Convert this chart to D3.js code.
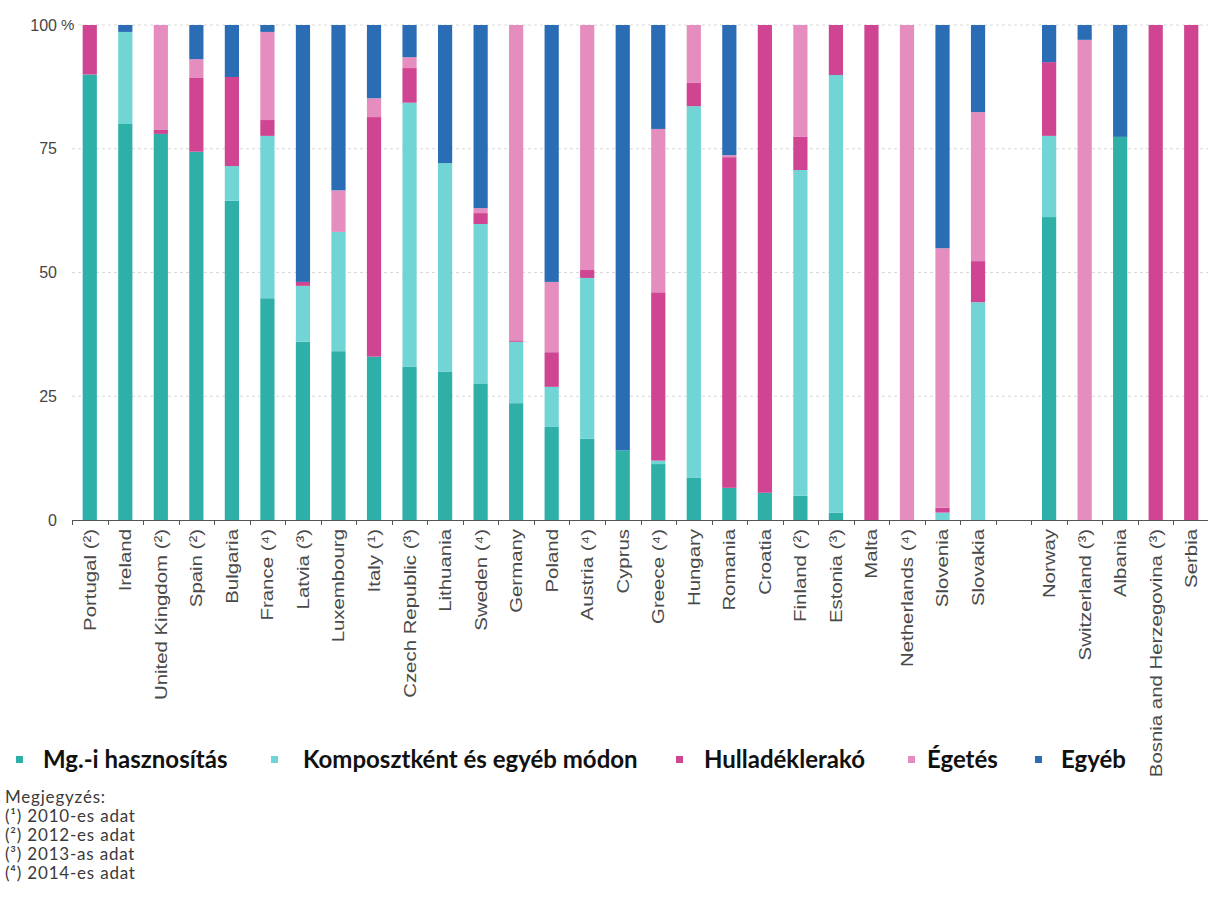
<!DOCTYPE html>
<html>
<head>
<meta charset="utf-8">
<script src="https://cdn.jsdelivr.net/npm/d3@7"></script>
<style>
  body { margin: 0; background: #fff; }
  svg { display: block; }
</style>
</head>
<body>
<svg id="chart" width="1208" height="897"></svg>
<script>
// categories (empty slot separates EU from non-EU countries)
const countries = [
  "Portugal (²)", "Ireland", "United Kingdom (²)", "Spain (²)", "Bulgaria", "France (⁴)",
  "Latvia (³)", "Luxembourg", "Italy (¹)", "Czech Republic (³)", "Lithuania", "Sweden (⁴)",
  "Germany", "Poland", "Austria (⁴)", "Cyprus", "Greece (⁴)", "Hungary", "Romania", "Croatia",
  "Finland (²)", "Estonia (³)", "Malta", "Netherlands (⁴)", "Slovenia", "Slovakia",
  "", "Norway", "Switzerland (³)", "Albania", "Bosnia and Herzegovina (³)", "Serbia"
];

// series values, %
const agri     = [90, 80, 78, 74.4, 64.5, 44.8, 36, 34.1, 33, 31, 30, 27.6, 23.6, 18.8, 16.4, 14.1, 11.3, 8.5, 6.5, 5.5, 4.9, 1.5, 0, 0, 0, 0, 0, 61.2, 0, 77.4, 0, 0];
const compost  = [0, 18.6, 0, 0, 7, 32.8, 11.3, 24.1, 0, 53.3, 42.1, 32.2, 12.4, 8.1, 32.5, 0, 0.7, 75.1, 0, 0, 65.8, 88.4, 0, 0, 1.5, 44, 0, 16.4, 0, 0, 0, 0];
const landfill = [10, 0, 0.8, 14.9, 18, 3.2, 0.8, 0, 48.4, 7, 0, 2.2, 0.3, 7, 1.6, 0, 34, 4.7, 66.8, 94.5, 6.7, 10.1, 100, 0, 1, 8.3, 0, 14.9, 0, 0, 100, 100];
const incin    = [0, 0, 21.2, 3.8, 0, 17.8, 0, 8.4, 3.8, 2.2, 0, 1, 63.7, 14.2, 49.5, 0, 33, 11.7, 0.4, 0, 22.6, 0, 0, 100, 52.4, 30.1, 0, 0, 97, 0, 0, 0];
const other    = [0, 1.4, 0, 6.9, 10.5, 1.4, 51.9, 33.4, 14.8, 6.5, 27.9, 37, 0, 51.9, 0, 85.9, 21, 0, 26.3, 0, 0, 0, 0, 0, 45.1, 17.6, 0, 7.5, 3, 22.6, 0, 0];

const seriesNames = ["Mg.-i hasznosítás", "Komposztként és egyéb módon", "Hulladéklerakó", "Égetés", "Egyéb"];
const seriesKeys = ["agri", "compost", "landfill", "incin", "other"];
const colors = ["#2eb0a9", "#70d5d4", "#cf4592", "#e68dbf", "#2b6db4"];

const yTicks = [0, 25, 50, 75, 100];
const notes = ["Megjegyzés:", "(¹) 2010-es adat", "(²) 2012-es adat", "(³) 2013-as adat", "(⁴) 2014-es adat"];

const rows = countries.map((c, i) => ({
  key: c || "__gap",
  agri: agri[i], compost: compost[i], landfill: landfill[i], incin: incin[i], other: other[i]
}));

const svg = d3.select("#chart");

const x = d3.scaleBand()
  .domain(rows.map(d => d.key))
  .range([72, 1209])
  .paddingInner(0.6)
  .paddingOuter(0.3);

const y = d3.scaleLinear().domain([0, 100]).range([520, 25]);

// grid lines
svg.append("g")
  .selectAll("line")
  .data(yTicks.filter(t => t > 0))
  .enter()
  .append("line")
  .attr("x1", 72).attr("x2", 1208)
  .attr("y1", d => y(d)).attr("y2", d => y(d))
  .attr("stroke", "#d9d9d9")
  .attr("stroke-width", 1)
  .attr("stroke-dasharray", "3,3");

// y labels
svg.append("g")
  .selectAll("text")
  .data(yTicks)
  .enter()
  .append("text")
  .attr("x", 57)
  .attr("y", d => y(d))
  .attr("dy", "0.35em")
  .attr("text-anchor", "end")
  .attr("font-family", "Liberation Sans, Arial, sans-serif")
  .attr("font-size", 16)
  .attr("fill", "#444")
  .text(d => d);

svg.append("text")
  .attr("x", 61)
  .attr("y", y(100))
  .attr("dy", "0.35em")
  .attr("font-family", "Liberation Sans, Arial, sans-serif")
  .attr("font-size", 15)
  .attr("fill", "#444")
  .text("%");

// stacked bars
const stacked = d3.stack().keys(seriesKeys)(rows);

svg.append("g")
  .selectAll("g")
  .data(stacked)
  .enter()
  .append("g")
  .attr("fill", (d, i) => colors[i])
  .selectAll("rect")
  .data(d => d.filter(s => s[1] - s[0] > 0))
  .enter()
  .append("rect")
  .attr("x", d => x(d.data.key))
  .attr("width", x.bandwidth())
  .attr("y", d => y(d[1]))
  .attr("height", d => y(d[0]) - y(d[1]));

// x axis line + boundary ticks
const axis = svg.append("g");
axis.append("line")
  .attr("x1", 72).attr("x2", 1208)
  .attr("y1", 520.5).attr("y2", 520.5)
  .attr("stroke", "#555");

const half = (x.step() - x.bandwidth()) / 2;
const bounds = rows.map(d => x(d.key) - half).concat([x(rows[rows.length - 1].key) + x.bandwidth() + half]);
axis.selectAll("line.tick")
  .data(bounds)
  .enter()
  .append("line")
  .attr("class", "tick")
  .attr("x1", d => Math.round(d) + 0.5).attr("x2", d => Math.round(d) + 0.5)
  .attr("y1", 520).attr("y2", 525)
  .attr("stroke", "#555");

// x labels (stretched along their length, as in the source image)
svg.append("g")
  .selectAll("text")
  .data(rows.filter(d => d.key !== "__gap"))
  .enter()
  .append("text")
  .attr("transform", d => `translate(${x(d.key) + x.bandwidth() / 2},529) rotate(-90) scale(1.2,1)`)
  .attr("dy", "0.35em")
  .attr("text-anchor", "end")
  .attr("font-family", "Liberation Sans, Arial, sans-serif")
  .attr("font-size", 17)
  .attr("fill", "#4a4a4a")
  .text(d => d.key);

// legend
const legendX = [16, 271, 676, 908, 1035];
const legendGap = [27, 32, 28, 19, 26];
const legend = svg.append("g")
  .selectAll("g")
  .data(seriesNames)
  .enter()
  .append("g")
  .attr("transform", (d, i) => `translate(${legendX[i]},760)`);

legend.append("rect")
  .attr("x", 0).attr("y", -4)
  .attr("width", 7).attr("height", 7)
  .attr("fill", (d, i) => colors[i]);

legend.append("text")
  .attr("x", (d, i) => legendGap[i])
  .attr("dy", "0.35em")
  .attr("font-family", "Lato, sans-serif")
  .attr("font-weight", "bold")
  .attr("font-size", 24)
  .attr("fill", "#111")
  .text(d => d);

// notes
svg.append("g")
  .selectAll("text")
  .data(notes)
  .enter()
  .append("text")
  .attr("x", 5)
  .attr("y", (d, i) => 803 + i * 19)
  .attr("font-family", "Lato, sans-serif")
  .attr("font-size", 17)
  .attr("letter-spacing", 0.8)
  .attr("fill", "#3a3a3a")
  .text(d => d);
</script>
</body>
</html>
